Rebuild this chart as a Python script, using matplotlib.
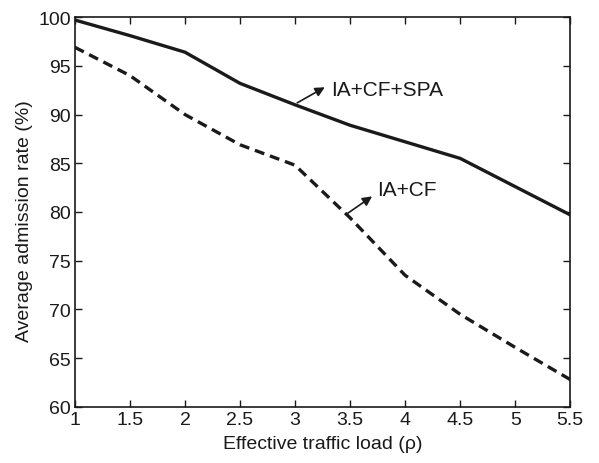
import matplotlib
matplotlib.use("Agg")
import matplotlib.pyplot as plt

plt.rcParams['font.family'] = ['Liberation Sans', 'DejaVu Sans']

load = [1, 1.5, 2, 2.5, 3, 3.5, 4, 4.5, 5, 5.5]
ia_cf_spa = [99.7, 98.1, 96.4, 93.2, 91.0, 88.9, 87.2, 85.5, 82.6, 79.7]
ia_cf = [96.9, 94.0, 90.0, 86.9, 84.8, 79.4, 73.5, 69.5, 66.1, 62.8]

fig = plt.figure(figsize=(5.99, 4.64), dpi=100)
ax = fig.add_axes([0.125, 0.121, 0.827, 0.84])

ax.plot(load, ia_cf_spa, color='#1a1a1a', lw=2.4, solid_joinstyle='round')
ax.plot(load, ia_cf, color='#1a1a1a', lw=2.4, dashes=(3.0, 1.8))

ax.set_xlim(1, 5.5)
ax.set_ylim(60, 100)
ax.set_xticks([1, 1.5, 2, 2.5, 3, 3.5, 4, 4.5, 5, 5.5])
ax.set_xticklabels(['1', '1.5', '2', '2.5', '3', '3.5', '4', '4.5', '5', '5.5'])
ax.set_yticks(range(60, 101, 5))
ax.tick_params(direction='in', top=True, right=True, labelsize=14, length=5, width=1, colors='#1a1a1a', pad=3)
for s in ax.spines.values():
    s.set_linewidth(1.2)
    s.set_color('#1a1a1a')

ax.set_xlabel('Effective traffic load (\u03c1)', fontsize=14, color='#1a1a1a', labelpad=5)
ax.set_ylabel('Average admission rate (%)', fontsize=14, color='#1a1a1a', labelpad=1)
ax.yaxis.set_label_coords(-0.085, 0.48)

arrow = dict(arrowstyle='-|>', color='#1a1a1a', lw=1.2, mutation_scale=14, shrinkA=0, shrinkB=0)
ax.annotate('', xy=(3.27, 92.8), xytext=(3.02, 91.2), arrowprops=arrow)
ax.text(3.33, 92.6, 'IA+CF+SPA', fontsize=15, va='center', ha='left', color='#1a1a1a')
ax.annotate('', xy=(3.70, 81.6), xytext=(3.47, 79.8), arrowprops=arrow)
ax.text(3.75, 82.3, 'IA+CF', fontsize=15, va='center', ha='left', color='#1a1a1a')

fig.savefig('out.png', dpi=100)
